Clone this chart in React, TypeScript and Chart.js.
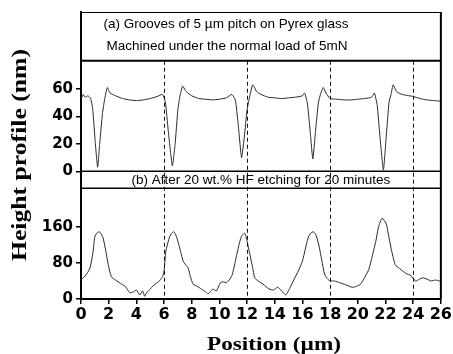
import React, { useEffect, useRef } from "react";
import { Chart, registerables } from "chart.js";

Chart.register(...registerables);

// ---- data ----
const topX = [0, 0.15, 0.3, 0.5, 0.7, 0.85, 1.0, 1.2, 1.35, 1.55, 1.7, 1.9, 2.1, 2.5, 3.0, 3.5, 4.0, 4.5, 5.0, 5.5, 5.9,
  6.1, 6.3, 6.6, 6.8, 7.0, 7.15, 7.35, 7.6, 8.0, 8.5, 9.0, 9.5, 10.0, 10.5, 10.9,
  11.15, 11.35, 11.6, 11.8, 12.0, 12.2, 12.4, 12.7, 13.0, 13.5, 14.0, 14.5, 15.0, 15.5, 16.0, 16.15,
  16.35, 16.55, 16.75, 16.95, 17.15, 17.3, 17.5, 17.7, 18.0, 18.5, 19.0, 19.5, 20.0, 20.5, 21.0, 21.2,
  21.4, 21.6, 21.85, 22.05, 22.25, 22.4, 22.55, 22.8, 23.2, 23.7, 24.0, 24.5, 25.0, 25.5, 26.0];
const topY = [52, 56, 54, 55, 53, 45, 25, 3, 20, 42, 52, 61, 57, 55, 53, 52, 51.5, 52, 53, 54.5, 56,
  50, 30, 4, 20, 45, 55, 62, 58, 55, 53, 52.5, 52, 52.5, 53.5, 56,
  52, 35, 10, 25, 45, 55, 63, 58, 56, 54, 53.5, 53, 53.5, 54, 55, 57,
  50, 30, 9, 30, 50, 56, 61, 57, 53, 52.5, 52, 52, 52.5, 53, 54, 57,
  48, 25, 1, 25, 50, 56, 63, 58, 56, 55, 54.5, 53, 52, 51.5, 51];

const bottomX = [0, 0.17, 0.4, 0.65, 0.85, 1.0, 1.15, 1.32, 1.5, 1.6, 1.8, 1.97, 2.2, 2.5, 2.93, 3.2, 3.53, 3.8, 4.0, 4.25,
  4.45, 4.6, 4.74, 5.0, 5.2, 5.5, 5.7, 5.9, 6.0, 6.13, 6.4, 6.55, 6.7, 6.85, 7.0, 7.2, 7.38, 7.55, 7.74, 7.9,
  8.1, 8.4, 8.7, 9.0, 9.18, 9.35, 9.54, 9.78, 10.07, 10.3, 10.5, 10.75, 10.94, 11.2, 11.4, 11.58, 11.82, 12.0,
  12.2, 12.4, 12.55, 12.8, 13.15, 13.6, 13.9, 14.2, 14.5, 14.8, 15.1, 15.4, 15.7, 16.0, 16.2, 16.4, 16.6, 16.8,
  17.0, 17.2, 17.4, 17.6, 17.8, 18.0, 18.3, 18.7, 19.1, 19.6, 19.9, 20.2, 20.5, 20.8, 21.0, 21.3, 21.5, 21.75,
  22.04, 22.2, 22.4, 22.7, 23.0, 23.24, 23.5, 23.84, 24.0, 24.2, 24.45, 24.7, 25.0, 25.3, 25.6, 25.9, 26.0];
const bottomY = [42, 47, 55, 69, 100, 138, 146, 149, 142, 135, 105, 76, 49, 42, 33, 28, 14, 16, 20, 9,
  18, 6, 14, 22, 29, 36, 41, 50, 62, 106, 138, 146, 149, 142, 128, 105, 84, 76, 69, 50,
  33, 28, 22, 16, 11, 17, 22, 18, 36, 38, 36, 44, 55, 91, 118, 138, 146, 128,
  99, 70, 47, 40, 33, 22, 20, 26, 18, 9, 25, 44, 62, 84, 110, 135, 146, 149,
  140, 117, 85, 55, 45, 40, 40, 36, 32, 26, 28, 33, 48, 66, 90, 128, 160, 179,
  168, 145, 113, 76, 68, 62, 56, 52, 45, 40, 44, 47, 44, 40, 42, 40, 38];

const xMin = 0;
const xMax = 26;
const xStep = 2;
const topTicks = [0, 20, 40, 60];
const bottomTicks = [0, 80, 160];
const grooveLines = [6, 12, 18, 24];

const panelATitle = ["(a) Grooves of 5 \u00b5m pitch on Pyrex glass", "Machined under the normal load of 5mN"];
const panelBTitle = "(b) After 20 wt.% HF etching for 20 minutes";
const xTitle = "Position (\u00b5m)";
const yTitle = "Height profile (nm)";

const tickFontX = { family: "'DejaVu Sans', sans-serif", size: 16, weight: "bold" as const };
const tickFontY = { family: "'DejaVu Sans', sans-serif", size: 15, weight: "bold" as const };

function drawStretched(ctx: CanvasRenderingContext2D, text: string, x: number, y: number, font: string, width: number, rotate: boolean) {
  ctx.save();
  ctx.font = font;
  const w = ctx.measureText(text).width;
  ctx.translate(x, y);
  if (rotate) ctx.rotate(-Math.PI / 2);
  ctx.scale(width / w, 1);
  ctx.textAlign = "center";
  ctx.textBaseline = "alphabetic";
  ctx.fillStyle = "#000";
  ctx.fillText(text, 0, 0);
  ctx.restore();
}

const framePlugin = {
  id: "framePlugin",
  afterDraw(chart: any) {
    const ctx: CanvasRenderingContext2D = chart.ctx;
    const ca = chart.chartArea;
    const xs = chart.scales.x;
    const yTop = chart.scales.yTop;
    const yBot = chart.scales.yBot;
    const boxABottom = yTop.getPixelForValue(80.5);
    const boxBTop = yTop.bottom;
    const boxBBottom = yBot.top + 17;

    ctx.save();
    // dashed groove lines
    ctx.strokeStyle = "#111";
    ctx.lineWidth = 1;
    ctx.setLineDash([4, 3]);
    for (const g of grooveLines) {
      const px = Math.round(xs.getPixelForValue(g)) + 0.5;
      ctx.beginPath();
      ctx.moveTo(px, boxABottom);
      ctx.lineTo(px, ca.bottom);
      ctx.stroke();
    }
    ctx.setLineDash([]);

    // frame
    ctx.strokeStyle = "#000";
    ctx.lineWidth = 1;
    ctx.beginPath();
    ctx.moveTo(ca.left, ca.top + 0.5);
    ctx.lineTo(ca.right, ca.top + 0.5);
    ctx.stroke();
    ctx.lineWidth = 2;
    ctx.beginPath();
    ctx.moveTo(ca.right, ca.top);
    ctx.lineTo(ca.right, ca.bottom);
    ctx.stroke();
    ctx.beginPath();
    ctx.moveTo(ca.left, boxABottom);
    ctx.lineTo(ca.right, boxABottom);
    ctx.stroke();
    ctx.lineWidth = 1.5;
    ctx.beginPath();
    ctx.moveTo(ca.left, boxBTop);
    ctx.lineTo(ca.right, boxBTop);
    ctx.moveTo(ca.left, boxBBottom);
    ctx.lineTo(ca.right, boxBBottom);
    ctx.stroke();

    // panel labels
    ctx.fillStyle = "#000";
    ctx.font = "13.5px 'Liberation Sans', Arial, sans-serif";
    ctx.textAlign = "center";
    ctx.textBaseline = "middle";
    ctx.fillText(panelATitle[0], 226, ca.top + 12);
    ctx.fillText(panelATitle[1], 227, ca.top + 34.5);
    ctx.fillText(panelBTitle, (ca.left + ca.right) / 2, (boxBTop + boxBBottom) / 2 + 0.5);

    // axis titles
    drawStretched(ctx, xTitle, 274, 350, "bold 18px 'Liberation Serif', 'Times New Roman', serif", 134, false);
    drawStretched(ctx, yTitle, 26, 155, "bold 21px 'Liberation Serif', 'Times New Roman', serif", 212, true);
    ctx.restore();
  },
};

export default function App() {
  const ref = useRef<HTMLCanvasElement | null>(null);
  useEffect(() => {
    if (!ref.current) return;
    const chart = new Chart(ref.current, {
      type: "line",
      data: {
        datasets: [
          {
            label: "a",
            data: topX.map((x, i) => ({ x, y: topY[i] })),
            yAxisID: "yTop",
            borderColor: "#2a2a2a",
            borderWidth: 1,
            pointRadius: 0,
            tension: 0.15,
          },
          {
            label: "b",
            data: bottomX.map((x, i) => ({ x, y: bottomY[i] })),
            yAxisID: "yBot",
            borderColor: "#2a2a2a",
            borderWidth: 1,
            pointRadius: 0,
            tension: 0.2,
          },
        ],
      },
      options: {
        animation: false,
        responsive: true,
        maintainAspectRatio: false,
        layout: { padding: { top: 9, right: 11, left: 0, bottom: 0 } },
        plugins: { legend: { display: false }, tooltip: { enabled: false } },
        scales: {
          x: {
            type: "linear",
            min: xMin,
            max: xMax,
            ticks: { stepSize: xStep, color: "#000", font: tickFontX, padding: 1, maxRotation: 0, autoSkip: false },
            grid: { drawOnChartArea: false, drawTicks: true, tickLength: 5, color: "#000", lineWidth: 1.5 },
            border: { display: true, color: "#000", width: 2 },
            afterFit: (s: any) => { s.height = 55; },
          },
          yBot: {
            type: "linear",
            position: "left",
            stack: "v",
            stackWeight: 129,
            min: 0,
            max: 283,
            afterBuildTicks: (s: any) => { s.ticks = bottomTicks.map((v) => ({ value: v })); },
            ticks: { color: "#000", font: tickFontY, padding: 3 },
            grid: { drawOnChartArea: false, drawTicks: true, tickLength: 5, color: "#000", lineWidth: 1.5 },
            border: { display: true, color: "#000", width: 2 },
            afterFit: (s: any) => { s.width = 81; },
          },
          yTop: {
            type: "linear",
            position: "left",
            stack: "v",
            stackWeight: 161,
            min: 0,
            max: 116,
            afterBuildTicks: (s: any) => { s.ticks = topTicks.map((v) => ({ value: v })); },
            ticks: { color: "#000", font: tickFontY, padding: 3 },
            grid: { drawOnChartArea: false, drawTicks: true, tickLength: 5, color: "#000", lineWidth: 1.5 },
            border: { display: true, color: "#000", width: 2 },
            afterFit: (s: any) => { s.width = 81; },
          },
        },
      },
      plugins: [framePlugin],
    });
    return () => chart.destroy();
  }, []);

  return (
    <div style={{ position: "absolute", left: 0, top: 0, width: 453, height: 354, background: "#fff" }}>
      <canvas ref={ref} />
    </div>
  );
}
